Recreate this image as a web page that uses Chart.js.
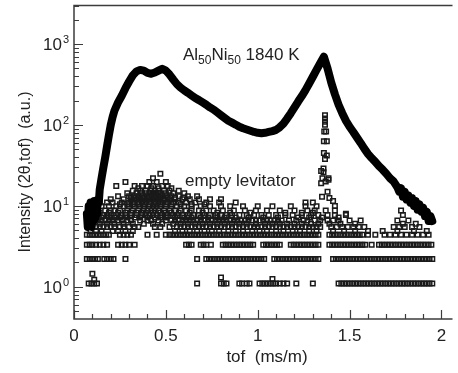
<!DOCTYPE html>
<html>
<head>
<meta charset="utf-8">
<script src="https://cdn.jsdelivr.net/npm/chart.js@4.4.1/dist/chart.umd.min.js"></script>
<style>
  html, body { margin: 0; padding: 0; background: #fff; }
  #wrap { width: 458px; height: 373px; }
</style>
</head>
<body>
<div id="wrap"><canvas id="chart"></canvas></div>
<script>
// Al50Ni50 1840 K
const curveX = [0.070, 0.075, 0.080, 0.085, 0.090, 0.095, 0.100, 0.105, 0.110, 0.115, 0.120, 0.125, 0.130, 0.135,
  0.14, 0.15, 0.16, 0.17, 0.18, 0.19, 0.20, 0.21, 0.22, 0.24, 0.26, 0.28, 0.30, 0.32, 0.34, 0.36, 0.38, 0.40,
  0.42, 0.44, 0.46, 0.48, 0.50, 0.52, 0.54, 0.56, 0.58, 0.60, 0.62, 0.64, 0.66, 0.68, 0.70, 0.72, 0.74, 0.76,
  0.78, 0.80, 0.82, 0.84, 0.86, 0.88, 0.90, 0.92, 0.94, 0.96, 0.98, 1.00, 1.02, 1.04, 1.06, 1.08, 1.10, 1.12,
  1.14, 1.16, 1.18, 1.20, 1.22, 1.24, 1.26, 1.28, 1.30, 1.32, 1.34, 1.36, 1.38, 1.40, 1.42, 1.44, 1.46, 1.48,
  1.50, 1.52, 1.54, 1.56, 1.58, 1.60, 1.62, 1.64, 1.66, 1.68, 1.70, 1.72, 1.74, 1.76, 1.77, 1.78, 1.79, 1.80,
  1.81, 1.82, 1.83, 1.84, 1.85, 1.86, 1.87, 1.88, 1.89, 1.90, 1.91, 1.92, 1.93, 1.94, 1.95];
const curveY = [8, 5.5, 10, 6, 11, 5.5, 9, 6.5, 11.5, 7, 10, 8, 12, 11,
  16, 22, 30, 40, 55, 75, 100, 125, 150, 190, 230, 285, 345, 410, 460, 480, 470, 440,
  430, 445, 470, 495, 470, 420, 365, 320, 290, 268, 250, 232, 215, 203, 190, 178, 165, 155,
  143, 132, 122, 113, 107, 101, 95, 91, 88, 85, 82, 80, 79, 80, 82, 84, 87, 94,
  104, 120, 140, 165, 195, 228, 270, 325, 395, 480, 580, 700, 500, 335, 240, 178, 140, 113,
  95, 82, 70, 60, 51, 44, 39, 35, 31, 28, 25, 22, 20, 17, 15, 16.5, 13, 15,
  12, 13.5, 11, 12.5, 10, 11.5, 9, 10.5, 8.5, 9.5, 7.5, 8.5, 6.5, 7.5, 6.5];

// empty levitator: x positions of the squares, one list per intensity row
const lev1 = [0.08, 0.095, 0.11, 0.125, 0.67, 0.80, 0.815, 0.83, 0.90, 0.915, 0.94, 0.955, 1.01, 1.025, 1.04,
  1.055, 1.07, 1.085, 1.10, 1.12, 1.14, 1.16, 1.21, 1.30, 1.44, 1.455, 1.47, 1.485, 1.50, 1.515, 1.53, 1.545,
  1.56, 1.575, 1.59, 1.605, 1.62, 1.635, 1.65, 1.665, 1.68, 1.695, 1.71, 1.725, 1.74, 1.755, 1.77, 1.785, 1.80,
  1.815, 1.83, 1.845, 1.86, 1.875, 1.89, 1.905, 1.92, 1.935, 1.95];
const lev2 = [0.07, 0.085, 0.10, 0.115, 0.13, 0.165, 0.18, 0.20, 0.215, 0.28, 0.67, 0.72, 0.735, 0.75, 0.765,
  0.78, 0.795, 0.81, 0.825, 0.84, 0.855, 0.87, 0.885, 0.90, 0.915, 0.93, 0.945, 0.96, 0.975, 0.99, 1.005, 1.02,
  1.035, 1.09, 1.105, 1.12, 1.135, 1.15, 1.165, 1.18, 1.195, 1.21, 1.225, 1.24, 1.255, 1.27, 1.285, 1.30, 1.315,
  1.33, 1.41, 1.425, 1.44, 1.455, 1.47, 1.485, 1.50, 1.515, 1.53, 1.545, 1.56, 1.575, 1.59, 1.605, 1.62, 1.635,
  1.65, 1.665, 1.68, 1.695, 1.71, 1.725, 1.74, 1.755, 1.77, 1.785, 1.80, 1.815, 1.83, 1.845, 1.86, 1.875, 1.89,
  1.905, 1.92, 1.935, 1.95];
const lev3 = [0.07, 0.085, 0.10, 0.12, 0.14, 0.16, 0.18, 0.24, 0.26, 0.28, 0.30, 0.33, 0.61, 0.625, 0.64, 0.69,
  0.705, 0.72, 0.745, 0.81, 0.825, 0.84, 0.855, 0.87, 0.885, 0.90, 0.915, 0.93, 0.945, 0.96, 0.975, 1.03, 1.045,
  1.06, 1.075, 1.09, 1.105, 1.12, 1.18, 1.195, 1.21, 1.225, 1.24, 1.255, 1.27, 1.285, 1.30, 1.315, 1.33, 1.39,
  1.405, 1.42, 1.435, 1.45, 1.465, 1.48, 1.495, 1.51, 1.525, 1.54, 1.555, 1.57, 1.585, 1.62, 1.66, 1.675, 1.69,
  1.705, 1.72, 1.735, 1.75, 1.765, 1.78, 1.795, 1.81, 1.825, 1.84, 1.855, 1.87, 1.885, 1.90, 1.915, 1.93, 1.945];
const lev4 = [0.07, 0.085, 0.10, 0.115, 0.13, 0.145, 0.16, 0.175, 0.19, 0.25, 0.27, 0.29, 0.31, 0.40, 0.45, 0.50,
  0.52, 0.535, 0.55, 0.565, 0.58, 0.595, 0.61, 0.625, 0.64, 0.655, 0.67, 0.685, 0.70, 0.715, 0.73, 0.745, 0.76,
  0.775, 0.79, 0.805, 0.82, 0.835, 0.85, 0.865, 0.88, 0.895, 0.91, 0.925, 0.94, 0.955, 0.97, 0.985, 1.00, 1.015,
  1.03, 1.045, 1.06, 1.075, 1.09, 1.105, 1.12, 1.135, 1.15, 1.165, 1.18, 1.195, 1.21, 1.225, 1.24, 1.255, 1.27,
  1.285, 1.30, 1.315, 1.33, 1.39, 1.405, 1.42, 1.435, 1.45, 1.465, 1.48, 1.495, 1.51, 1.525, 1.54, 1.555, 1.57,
  1.60, 1.64, 1.69, 1.72, 1.75, 1.78, 1.81, 1.84, 1.87, 1.90, 1.93];
const lev49 = [0.09, 0.12, 0.15, 0.21, 0.24, 0.28, 0.32, 0.55, 0.59, 0.63, 0.67, 0.71, 0.75, 0.79, 0.84, 0.88,
  0.92, 0.97, 1.01, 1.05, 1.10, 1.14, 1.19, 1.23, 1.28, 1.32, 1.41, 1.47, 1.53, 1.60, 1.68, 1.76, 1.85, 1.92];
const lev5 = [0.08, 0.10, 0.12, 0.14, 0.16, 0.18, 0.20, 0.22, 0.25, 0.27, 0.30, 0.33, 0.35, 0.44, 0.47, 0.52,
  0.56, 0.58, 0.60, 0.62, 0.64, 0.66, 0.68, 0.70, 0.72, 0.74, 0.76, 0.78, 0.80, 0.82, 0.84, 0.86, 0.88, 0.90,
  0.92, 0.94, 0.96, 0.98, 1.00, 1.02, 1.04, 1.06, 1.08, 1.10, 1.12, 1.14, 1.16, 1.18, 1.20, 1.22, 1.24, 1.26,
  1.28, 1.30, 1.32, 1.34, 1.40, 1.43, 1.46, 1.49, 1.52, 1.55, 1.58, 1.74, 1.77, 1.80, 1.84, 1.88];
const lev60 = [0.10, 0.14, 0.18, 0.22, 0.27, 0.32, 0.38, 0.43, 0.48, 0.54, 0.58, 0.62, 0.66, 0.70, 0.74, 0.78,
  0.82, 0.86, 0.90, 0.94, 0.99, 1.04, 1.08, 1.12, 1.16, 1.20, 1.24, 1.29, 1.33, 1.39, 1.45, 1.53, 1.79, 1.86];
const lev6 = [0.09, 0.11, 0.13, 0.15, 0.17, 0.19, 0.21, 0.24, 0.26, 0.29, 0.31, 0.36, 0.40, 0.42, 0.46, 0.50,
  0.53, 0.55, 0.57, 0.59, 0.61, 0.63, 0.65, 0.67, 0.69, 0.71, 0.73, 0.75, 0.77, 0.79, 0.81, 0.83, 0.85, 0.87,
  0.89, 0.91, 0.93, 0.95, 0.97, 0.99, 1.01, 1.03, 1.05, 1.07, 1.09, 1.11, 1.13, 1.17, 1.21, 1.25, 1.27, 1.31,
  1.34, 1.38, 1.41, 1.44, 1.50, 1.56, 1.76, 1.82];
const lev72 = [0.12, 0.15, 0.19, 0.22, 0.25, 0.29, 0.33, 0.36, 0.40, 0.44, 0.47, 0.50, 0.55, 0.60, 0.64, 0.69,
  0.73, 0.78, 0.82, 0.88, 0.95, 1.03, 1.11, 1.22, 1.28, 1.35, 1.44];
const lev7 = [0.10, 0.13, 0.16, 0.18, 0.20, 0.23, 0.26, 0.28, 0.31, 0.34, 0.37, 0.39, 0.41, 0.43, 0.45, 0.48,
  0.51, 0.54, 0.56, 0.59, 0.62, 0.65, 0.68, 0.71, 0.74, 0.77, 0.80, 0.83, 0.86, 0.90, 0.94, 0.98, 1.02, 1.06,
  1.10, 1.15, 1.19, 1.24, 1.29, 1.33, 1.38, 1.42, 1.48, 1.79];
const lev82 = [0.14, 0.19, 0.24, 0.28, 0.31, 0.34, 0.37, 0.39, 0.43, 0.47, 0.50, 0.53, 0.57, 0.63, 0.70, 0.78,
  0.85, 0.96, 1.15, 1.24, 1.30];
const lev8 = [0.09, 0.12, 0.17, 0.20, 0.22, 0.25, 0.29, 0.32, 0.35, 0.38, 0.40, 0.42, 0.44, 0.46, 0.49, 0.52,
  0.55, 0.58, 0.61, 0.64, 0.68, 0.72, 0.76, 0.81, 0.87, 0.93, 0.99, 1.05, 1.12, 1.20, 1.27, 1.31, 1.37, 1.42, 1.78];
const lev9 = [0.11, 0.15, 0.19, 0.23, 0.27, 0.30, 0.33, 0.36, 0.38, 0.41, 0.43, 0.45, 0.47, 0.50, 0.53, 0.56,
  0.60, 0.64, 0.69, 0.74, 0.80, 0.85, 0.92, 1.00, 1.08, 1.18, 1.26, 1.32];
const lev105 = [0.25, 0.29, 0.32, 0.35, 0.38, 0.41, 0.44, 0.47, 0.50, 0.53, 0.58, 0.64, 0.71];
const lev10 = [0.14, 0.18, 0.21, 0.26, 0.30, 0.33, 0.35, 0.37, 0.39, 0.42, 0.44, 0.46, 0.48, 0.51, 0.54, 0.57,
  0.61, 0.66, 0.72, 0.79, 0.88, 1.26, 1.30];
const lev11 = [0.20, 0.27, 0.31, 0.34, 0.36, 0.38, 0.40, 0.43, 0.45, 0.47, 0.49, 0.52, 0.55, 0.59, 0.63, 0.68, 0.74, 0.80];
const lev127 = [0.31, 0.35, 0.38, 0.41, 0.44, 0.47, 0.51, 0.55, 0.60];
const lev12 = [0.24, 0.30, 0.33, 0.35, 0.37, 0.40, 0.42, 0.44, 0.46, 0.48, 0.50, 0.53, 0.57, 0.62, 0.67];
const lev13 = [0.29, 0.34, 0.37, 0.39, 0.41, 0.43, 0.45, 0.47, 0.50, 0.54, 0.60];
const lev14 = [0.32, 0.36, 0.39, 0.42, 0.44, 0.46, 0.49, 0.52, 0.57];
const lev165 = [0.35, 0.42, 0.46, 0.53];
const lev16 = [0.23, 0.33, 0.37, 0.40, 0.43, 0.48, 0.51];
const lev18 = [0.28, 0.41, 0.45, 0.50];
const levelValues = [1.1, 2.2, 3.3, 4.4, 4.9, 5.5, 6.0, 6.6, 7.2, 7.7, 8.2, 8.8, 9.9, 10.5, 11, 12.1, 12.7,
  13.2, 14.3, 15.4, 16.5, 17.6, 19.8];
const levelRows = [lev1, lev2, lev3, lev4, lev49, lev5, lev60, lev6, lev72, lev7, lev82, lev8, lev9, lev105,
  lev10, lev11, lev127, lev12, lev13, lev14, lev165, lev16, lev18];
// the spike near 1.37 and a few stray points
const extraX = [1.366, 1.366, 1.366, 1.366, 1.362, 1.372, 1.360, 1.376, 1.360, 1.376, 1.366, 1.358, 1.358, 1.352,
  1.385, 1.345, 1.370, 1.345, 1.385, 1.380, 1.390, 1.410, 1.420, 1.350, 1.480, 0.43, 0.47, 0.10, 0.11, 0.80, 1.08];
const extraY = [132, 120, 110, 101, 83, 83, 63, 63, 45, 42, 38, 29, 26, 22,
  22, 27, 20, 19, 21, 15, 12.5, 11.5, 10, 13, 8, 22, 25, 1.45, 1.22, 1.3, 1.25];

const xMajor = [0, 0.5, 1, 1.5, 2];
const xLabels = ["0", "0.5", "1", "1.5", "2"];
const xMinor = [0.1, 0.2, 0.3, 0.4, 0.6, 0.7, 0.8, 0.9, 1.1, 1.2, 1.3, 1.4, 1.6, 1.7, 1.8, 1.9];
const yMajor = [1, 10, 100, 1000];
const yExponents = ["0", "1", "2", "3"];
const yMinor = [0.5, 0.6, 0.7, 0.8, 0.9, 2, 3, 4, 5, 6, 7, 8, 9, 20, 30, 40, 50, 60, 70, 80, 90,
  200, 300, 400, 500, 600, 700, 800, 900, 2000, 3000];

const curveData = curveX.map((x, i) => ({ x: x, y: curveY[i] }));
const levData = [];
levelRows.forEach((row, i) => row.forEach(x => levData.push({ x: x, y: levelValues[i] })));
extraX.forEach((x, i) => levData.push({ x: x, y: extraY[i] }));

const FONT = '"Liberation Sans", Arial, Helvetica, sans-serif';

const axesPlugin = {
  id: "axes",
  afterDraw(chart) {
    const ctx = chart.ctx;
    const a = chart.chartArea;
    const xs = chart.scales.x;
    const ys = chart.scales.y;
    ctx.save();
    ctx.strokeStyle = "#3c3c3c";
    ctx.lineWidth = 1.5;
    ctx.beginPath();
    ctx.moveTo(a.right, a.top);
    ctx.lineTo(a.left, a.top);
    ctx.lineTo(a.left, a.bottom);
    ctx.lineTo(a.right, a.bottom);
    ctx.stroke();

    ctx.lineWidth = 1.2;
    ctx.beginPath();
    xMajor.forEach(v => {
      const p = Math.round(xs.getPixelForValue(v)) + 0.5;
      ctx.moveTo(p, a.bottom); ctx.lineTo(p, a.bottom - 9);
    });
    xMinor.forEach(v => {
      const p = Math.round(xs.getPixelForValue(v)) + 0.5;
      ctx.moveTo(p, a.bottom); ctx.lineTo(p, a.bottom - 5);
    });
    yMajor.forEach(v => {
      const p = Math.round(ys.getPixelForValue(v)) + 0.5;
      ctx.moveTo(a.left, p); ctx.lineTo(a.left + 9, p);
    });
    yMinor.forEach(v => {
      const p = Math.round(ys.getPixelForValue(v)) + 0.5;
      ctx.moveTo(a.left, p); ctx.lineTo(a.left + 5, p);
    });
    ctx.stroke();

    ctx.fillStyle = "#222";
    ctx.textBaseline = "alphabetic";
    // x tick labels
    ctx.font = "17px " + FONT;
    ctx.textAlign = "center";
    xMajor.forEach((v, i) => {
      ctx.fillText(xLabels[i], xs.getPixelForValue(v), a.bottom + 22);
    });
    // y tick labels 10^n
    yMajor.forEach((v, i) => {
      const p = ys.getPixelForValue(v);
      ctx.font = "17px " + FONT;
      ctx.textAlign = "right";
      ctx.fillText("10", 62, p + 6);
      ctx.font = "11px " + FONT;
      ctx.textAlign = "left";
      ctx.fillText(yExponents[i], 63, p - 1);
    });
    // axis titles
    ctx.font = "17px " + FONT;
    ctx.textAlign = "center";
    ctx.fillText("tof  (ms/m)", 267, 362);
    ctx.save();
    ctx.translate(30, 172);
    ctx.rotate(-Math.PI / 2);
    ctx.font = "16px " + FONT;
    ctx.fillText("Intensity (2\u03b8,tof)  (a.u.)", 0, 0);
    ctx.restore();

    // annotations
    ctx.textAlign = "left";
    let x = 183;
    const parts = [["Al", 0], ["50", 1], ["Ni", 0], ["50", 1], [" 1840 K", 0]];
    parts.forEach(([t, sub]) => {
      ctx.font = (sub ? "12px " : "17px ") + FONT;
      ctx.fillText(t, x, sub ? 64 : 60);
      x += ctx.measureText(t).width;
    });
    ctx.font = "17px " + FONT;
    ctx.fillText("empty levitator", 185, 186);
    ctx.restore();
  }
};

new Chart(document.getElementById("chart"), {
  type: "scatter",
  data: {
    datasets: [
      {
        label: "Al50Ni50 1840 K",
        data: curveData,
        showLine: true,
        borderColor: "#000",
        backgroundColor: "#000",
        borderWidth: 8,
        borderJoinStyle: "round",
        borderCapStyle: "round",
        pointRadius: 0,
        tension: 0,
      },
      {
        label: "empty levitator",
        data: levData,
        showLine: false,
        pointStyle: "rect",
        pointRadius: 3.2,
        pointBorderWidth: 1.5,
        pointBorderColor: "#1a1a1a",
        pointBackgroundColor: "rgba(255,255,255,0)",
      },
    ],
  },
  options: {
    responsive: true,
    maintainAspectRatio: false,
    animation: false,
    devicePixelRatio: 1,
    layout: { padding: { left: 74, right: 0, top: 3, bottom: 54 } },
    plugins: { legend: { display: false }, tooltip: { enabled: false } },
    scales: {
      x: { type: "linear", min: 0, max: 2.06, display: false },
      y: { type: "logarithmic", min: 0.4, max: 3000, display: false },
    },
  },
  plugins: [axesPlugin],
});
</script>
</body>
</html>
